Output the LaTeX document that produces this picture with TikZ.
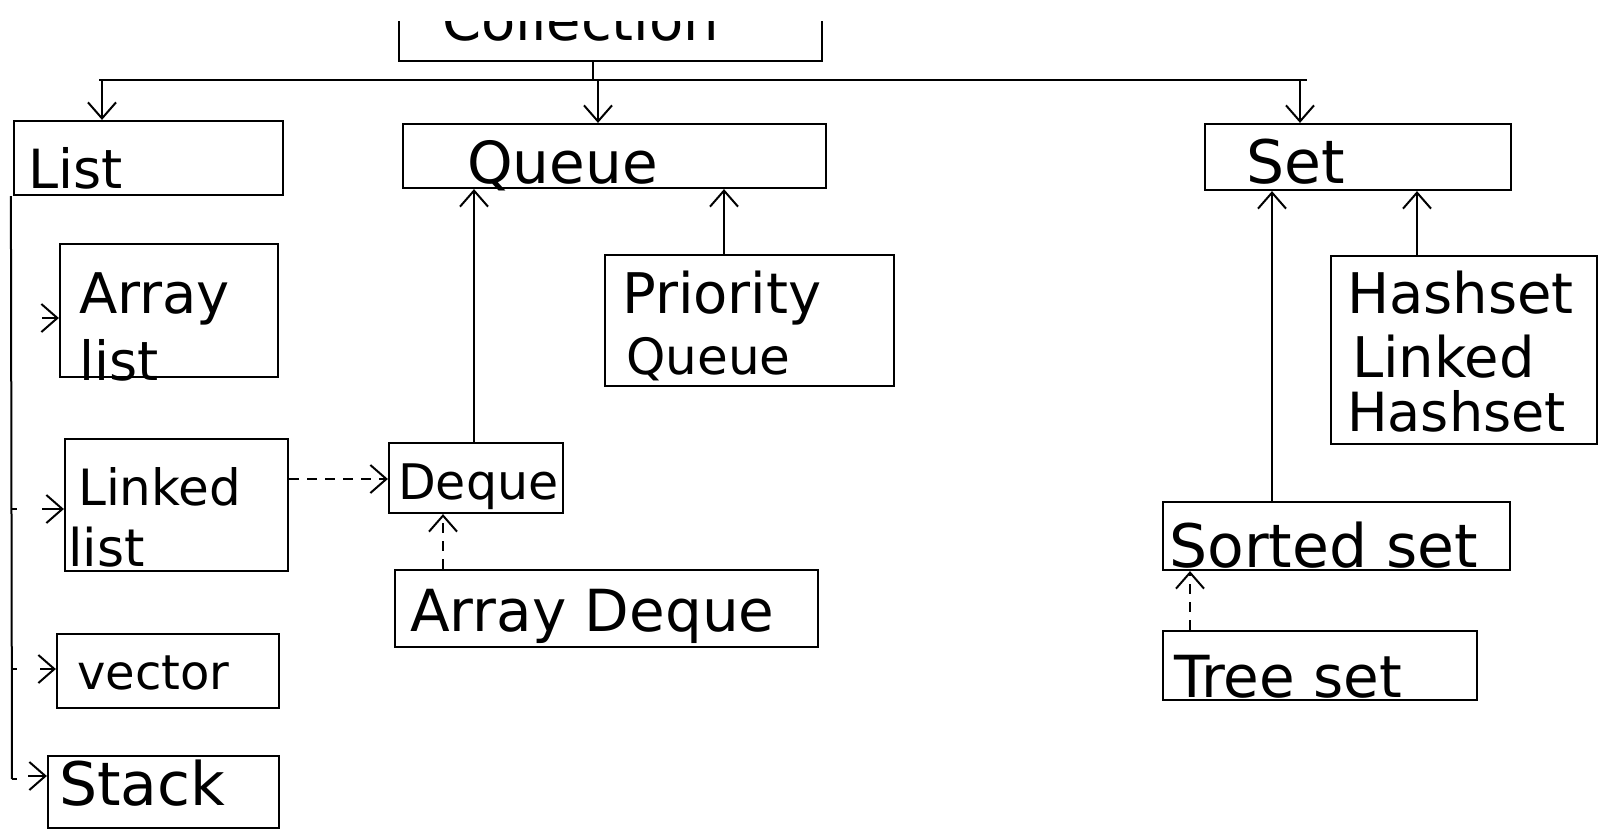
\documentclass[tikz,border=0pt]{standalone}
\usepackage{fontspec}
\setmainfont{DejaVu Sans}
\usetikzlibrary{arrows.meta}
\tikzset{
  box/.style={draw, line width=2.2pt, inner sep=0pt},
  txt/.style={anchor=base west, inner sep=0pt, font=\fontsize{#1}{#1}\selectfont},
  txt/.default=56,
  conn/.style={line width=2pt},
  arr/.style={line width=2pt, -{Straight Barb[length=16pt,width=28pt,line width=2pt]}},
  dsh/.style={dash pattern=on 10pt off 8pt}
}
\begin{document}
\begin{tikzpicture}[x=1pt,y=-1pt]
\fill[white] (0,0) rectangle (1608,831);
\useasboundingbox (0,0) rectangle (1608,831);

% Collection (cut at the top)
\begin{scope}
\clip (0,21) rectangle (1608,831);
\node[box, minimum width=423pt, minimum height=70pt] (coll) at (610.5,26) {};
\node[txt] (tcoll) at (442,40) {Collection};
\end{scope}

% boxes
\node[box, minimum width=269pt, minimum height=74pt]  (list)     at (148.5,158) {};
\node[box, minimum width=423pt, minimum height=64pt]  (queue)    at (614.5,156) {};
\node[box, minimum width=306pt, minimum height=66pt]  (set)      at (1358,157) {};
\node[box, minimum width=218pt, minimum height=133pt] (arrlist)  at (169,310.5) {};
\node[box, minimum width=223pt, minimum height=132pt] (linked)   at (176.5,505) {};
\node[box, minimum width=222pt, minimum height=74pt]  (vector)   at (168,671) {};
\node[box, minimum width=231pt, minimum height=72pt]  (stack)    at (163.5,792) {};
\node[box, minimum width=289pt, minimum height=131pt] (pq)       at (749.5,320.5) {};
\node[box, minimum width=174pt, minimum height=70pt]  (deque)    at (476,478) {};
\node[box, minimum width=423pt, minimum height=77pt]  (arrdeque) at (606.5,608.5) {};
\node[box, minimum width=266pt, minimum height=188pt] (hash)     at (1464,350) {};
\node[box, minimum width=347pt, minimum height=68pt]  (sorted)   at (1336.5,536) {};
\node[box, minimum width=314pt, minimum height=69pt]  (tree)     at (1320,665.5) {};

% texts
\node[txt=54] (tlist)   at (28,188)   {List};
\node[txt=58] (tqueue)  at (467,183)  {Queue};
\node[txt=60] (tset)    at (1246,183) {Set};
\node[txt=56] (tarr1)   at (79,313)   {Array};
\node[txt=54] (tarr2)   at (79,380)   {list};
\node[txt=50] (tlnk1)   at (78,505)   {Linked};
\node[txt=52] (tlnk2)   at (68,566)   {list};
\node[txt=48] (tvec)    at (77,689)   {vector};
\node[txt=60] (tstack)  at (59,805)   {Stack};
\node[txt=56] (tpq1)    at (622,313)  {Priority};
\node[txt=50] (tpq2)    at (626,374)  {Queue};
\node[txt=49] (tdeque)  at (398,499)  {Deque};
\node[txt=58] (tad)     at (410,631)  {Array Deque};
\node[txt=56] (th1)     at (1347,313) {Hashset};
\node[txt=56] (th2)     at (1352,377) {Linked};
\node[txt=54] (th3)     at (1347,431) {Hashset};
\node[txt=60] (tsorted) at (1169,567) {Sorted set};
\node[txt=58] (ttree)   at (1174,697) {Tree set};

% bus from Collection
\coordinate (busL) at (99,80);
\coordinate (busR) at (1307,80);
\draw[conn] (busL) -- (busR);
\draw[conn] ([xshift=-17.5pt]coll.south) -- ([xshift=-17.5pt]coll.south |- busL);
\coordinate (b1) at (102,80);
\coordinate (b2) at (598,80);
\coordinate (b3) at (1300,80);
\draw[arr] (b1) -- (b1 |- list.north);
\draw[arr] (b2) -- (b2 |- queue.north);
\draw[arr] (b3) -- (b3 |- set.north);

% List spine
\coordinate (spE) at (12,779);
\draw[conn] ([xshift=-2pt]list.south west) -- (spE);
\coordinate (s1) at (42,318);
\coordinate (s2) at (42,509);
\coordinate (s3) at (40,669);
\coordinate (s4) at (28,776);
\draw[arr] (s1) -- (s1 -| arrlist.west);
\draw[arr] (s2) -- (s2 -| linked.west);
\draw[arr] (s3) -- (s3 -| vector.west);
\draw[arr] (s4) -- (s4 -| stack.west);
\draw[conn] (12,509) -- (17,509);
\draw[conn] (12,669) -- (17,669);
\draw[conn] (12,779) -- (17,779);

% Queue side
\draw[arr, dsh] ([yshift=26pt]linked.east) -- ([yshift=26pt]linked.east -| deque.west);
\draw[arr] ([xshift=-2pt]deque.north) -- ([xshift=-2pt]deque.north |- queue.south);
\draw[arr] ([xshift=-25.5pt]pq.north) -- ([xshift=-25.5pt]pq.north |- queue.south);
\draw[arr, dsh] ([xshift=-163.5pt]arrdeque.north) -- ([xshift=-163.5pt]arrdeque.north |- deque.south);

% Set side
\draw[arr] ([xshift=-64.5pt]sorted.north) -- ([xshift=-64.5pt]sorted.north |- set.south);
\draw[arr] ([xshift=-47pt]hash.north) -- ([xshift=-47pt]hash.north |- set.south);
\draw[arr, dsh] ([xshift=-130pt]tree.north) -- ([xshift=-130pt]tree.north |- sorted.south);
\end{tikzpicture}
\end{document}
